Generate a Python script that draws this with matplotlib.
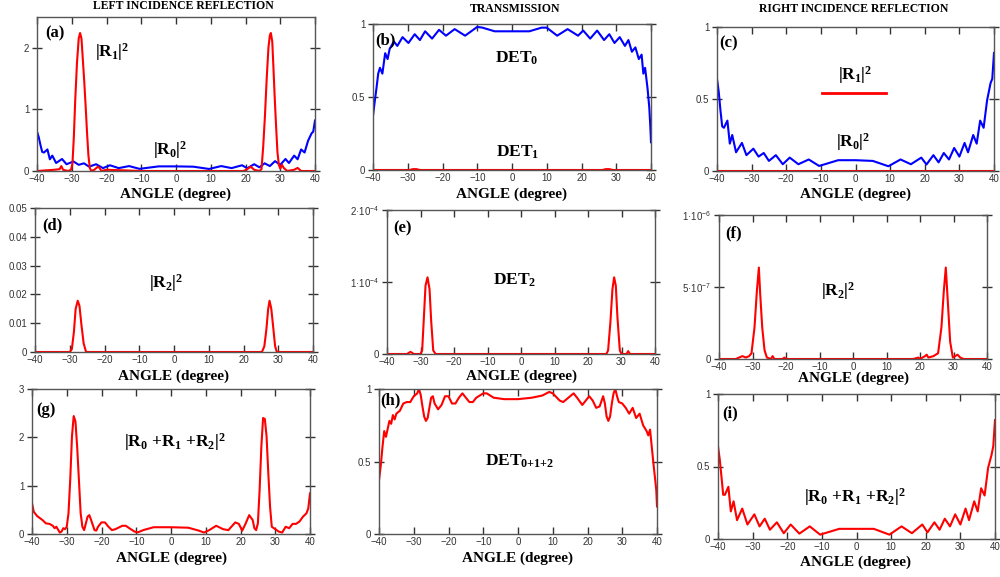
import numpy as np
import matplotlib
matplotlib.use('Agg')
from matplotlib import pyplot as plt

plt.rcParams['mathtext.fontset'] = 'custom'
plt.rcParams['mathtext.rm'] = 'Liberation Serif:bold'
plt.rcParams['mathtext.it'] = 'Liberation Serif:bold'
plt.rcParams['mathtext.bf'] = 'Liberation Serif:bold'
plt.rcParams['mathtext.sf'] = 'Liberation Sans'
plt.rcParams['font.family'] = ['Liberation Sans', 'DejaVu Sans']

# (a)/(c) zeroth order reflection
ang_r0 = [-40, -39.5, -39, -38.5, -38, -37, -36.3, -35.6, -34.5, -32.8, -31.5, -29.5, -28, -26.5, -25,
          -23, -21, -19, -16.5, -13.5, -10.5, -5, 0, 5, 9.5, 13, 16, 19, 20.5, 22.5,
          24, 25.5, 27, 28.5, 30, 31.5, 32.5, 34, 35, 36, 37, 38, 39, 39.5, 40]
r0 = [0.64, 0.55, 0.42, 0.31, 0.30, 0.35, 0.19, 0.25, 0.13, 0.195, 0.11, 0.155, 0.10, 0.125, 0.07,
      0.11, 0.047, 0.093, 0.047, 0.08, 0.035, 0.075, 0.075, 0.07, 0.033, 0.08, 0.047, 0.093, 0.045, 0.11,
      0.06, 0.125, 0.08, 0.16, 0.10, 0.195, 0.13, 0.25, 0.19, 0.35, 0.30, 0.49, 0.61, 0.64, 0.82]

# (a) first order reflection, left incidence
ang_r1 = [-40, -35, -33.5, -33, -32.5, -31, -30.2, -29.8, -29.4, -29, -28.5, -28, -27.6, -27.2, -26.8,
          -26.4, -26, -25.6, -25.2, -24.8, -24.4, -23.5, -22.5, -22, -21.5, -20, -10, 0, 10, 19.5,
          20.5, 21.5, 22.5, 24, 24.6, 25.1, 25.6, 26.1, 26.6, 27, 27.3, 27.7, 28, 28.4, 28.8,
          29.2, 29.6, 30, 30.5, 31, 32, 34, 35, 36, 40]
r1 = [0.0, 0.02, 0.03, 0.08, 0.02, 0.0, 0.02, 0.12, 0.55, 1.15, 1.75, 2.15, 2.24, 2.15, 1.8,
      1.45, 1.05, 0.62, 0.25, 0.05, 0.0, 0.02, 0.07, 0.05, 0.0, 0.02, 0.0, 0.0, 0.0, 0.0,
      0.03, 0.07, 0.02, 0.0, 0.03, 0.4, 0.9, 1.5, 2.0, 2.2, 2.24, 2.1, 1.73, 1.2, 0.73,
      0.3, 0.1, 0.04, 0.1, 0.05, 0.0, 0.02, 0.05, 0.0, 0.0]

# (b) transmission
ang_det0 = [-40, -39.5, -39, -38.5, -38, -37.3, -36.5, -35.8, -35.2, -34, -33, -31.5, -29.8, -28, -26.5,
            -25, -23, -21, -19, -16.5, -13.5, -10, -8.5, -5, 0, 5, 8.5, 10, 13, 16,
            19, 20.5, 22.5, 24.5, 26.5, 28, 29.5, 31, 32.5, 33.5, 34.5, 35.5, 36.5, 37.3, 37.8,
            38.3, 39, 39.5, 39.8, 40]
det0 = [0.37, 0.47, 0.56, 0.66, 0.70, 0.66, 0.80, 0.76, 0.83, 0.88, 0.85, 0.91, 0.87, 0.93, 0.89,
        0.95, 0.90, 0.96, 0.92, 0.965, 0.92, 0.98, 0.975, 0.95, 0.95, 0.95, 0.975, 0.975, 0.92, 0.965,
        0.92, 0.955, 0.90, 0.955, 0.89, 0.93, 0.87, 0.91, 0.85, 0.89, 0.81, 0.84, 0.76, 0.79, 0.66,
        0.70, 0.56, 0.43, 0.30, 0.19]
ang_det1 = [-40, -29.5, -28.5, -27.5, -26.5, 26, 27, 28, 29, 40]
det1 = [0, 0, 0.006, 0.006, 0, 0, 0.006, 0.006, 0, 0]

# (d) second order reflection, left incidence
ang_r2 = [-40, -30, -29.4, -28.8, -28.3, -27.7, -27.2, -26.6, -26, -25.3,
          25.3, 26, 26.6, 27.1, 27.5, 28, 28.6, 29.1, 29.6, 40]
r2 = [0, 0, 0.001, 0.007, 0.015, 0.0178, 0.016, 0.009, 0.003, 0,
      0, 0.002, 0.008, 0.015, 0.0178, 0.015, 0.008, 0.002, 0, 0]

# (e) DET2, units of 1e-4
ang_det2 = [-40, -34, -33, -32, -30, -29.5, -29, -28.5, -27.9, -27.3, -26.8, -26.2, -25.5,
            25.5, 26, 26.7, 27.3, 27.8, 28.3, 28.8, 29.5, 30, 31.5, 32, 32.5, 40]
det2 = [0, 0, 0.03, 0, 0, 0.05, 0.5, 0.95, 1.065, 0.9, 0.45, 0.05, 0,
        0, 0.05, 0.45, 0.9, 1.065, 0.95, 0.5, 0.05, 0, 0, 0.04, 0, 0]

# (f) second order reflection, right incidence, units of 1e-7
ang_r2r = [-40, -35, -34, -33, -32, -31, -30.3, -29.4, -28.7, -28.1, -27.7, -27.1, -26.4, -25.7, -24.5,
           -24, -23.5, -21, -20.5, -20, 18, 19.5, 20, 21.5, 22, 22.5, 24, 25.4, 26.4, 27.1,
           27.7, 28.3, 29, 29.8, 30.5, 31.2, 32, 33, 40]
r2r = [0, 0, 0.1, 0.2, 0.1, 0.2, 0.4, 2.2, 4.7, 6.35, 4.5, 2.2, 0.6, 0.1, 0.0,
       0.2, 0, 0, 0.1, 0, 0, 0.1, 0, 0.2, 0.3, 0.1, 0.2, 0.4, 2.2, 4.7,
       6.35, 4.0, 1.2, 0.1, 0.2, 0.3, 0.1, 0, 0]

# (g) total reflection, left incidence
ang_g = [-40, -39.5, -38.5, -37, -36, -35, -34, -33.5, -33, -32,
         -31.5, -31, -30.5, -30, -29.5, -29, -28.5, -28, -27.5, -27,
         -26.5, -26, -25.5, -25, -24.5, -24, -23.5, -23, -22, -21.5,
         -21, -20, -19, -18, -17, -16, -14, -13, -12, -10.5,
         -9.5, -8, -5, 0, 5, 8, 9.5, 11, 13, 15,
         16.5, 18.5, 19.5, 20.5, 21.5, 22.5, 23.5, 24, 24.5, 25,
         25.5, 26, 26.5, 27, 27.5, 28, 28.5, 29, 30, 31,
         32, 33, 34, 35, 36, 37, 38, 39, 39.5, 40]
tot_g = [0.64, 0.46, 0.37, 0.29, 0.22, 0.21, 0.17, 0.12, 0.15, 0.03,
         0.05, 0.12, 0.10, 0.15, 0.43, 1.12, 2.02, 2.44, 2.33, 1.8,
         1.12, 0.43, 0.15, 0.08, 0.22, 0.36, 0.39, 0.29, 0.08, 0.07,
         0.15, 0.24, 0.24, 0.15, 0.08, 0.10, 0.17, 0.17, 0.12, 0.05,
         0.035, 0.08, 0.14, 0.14, 0.13, 0.07, 0.03, 0.08, 0.17, 0.10,
         0.08, 0.24, 0.21, 0.07, 0.22, 0.39, 0.29, 0.12, 0.08, 0.22,
         0.91, 1.81, 2.40, 2.38, 2.02, 1.26, 0.57, 0.15, 0.10, 0.05,
         0.03, 0.15, 0.12, 0.21, 0.21, 0.26, 0.36, 0.43, 0.53, 0.84]

# (h) total transmission
ang_h = [-40, -39.5, -39, -38.5, -38, -37, -36.5, -36, -35.5, -35,
         -34, -33, -32, -31, -30, -29, -28.5, -28, -27.5, -27,
         -26.5, -26, -25.5, -25, -24.5, -24, -23, -22, -21, -20,
         -19, -18, -17, -16, -15, -14, -13, -12, -10, -9,
         -7, -4, 0, 4, 7, 9, 10, 12, 13, 15,
         16, 17, 18.5, 19.5, 20.5, 21.5, 22.5, 23.5, 24.5, 25,
         25.5, 26, 26.5, 27, 27.5, 28, 28.5, 29, 30, 31,
         32, 33, 34, 35, 36, 37, 37.5, 38, 38.5, 39,
         39.5, 39.8, 40]
tot_h = [0.37, 0.47, 0.60, 0.71, 0.67, 0.78, 0.76, 0.82, 0.79, 0.83,
         0.85, 0.90, 0.91, 0.91, 0.95, 0.97, 1.0, 0.96, 0.88, 0.81,
         0.78, 0.80, 0.87, 0.94, 0.95, 0.90, 0.86, 0.89, 0.95, 0.95,
         0.90, 0.90, 0.94, 0.97, 0.94, 0.91, 0.91, 0.94, 0.97, 0.97,
         0.94, 0.93, 0.93, 0.94, 0.955, 0.98, 0.97, 0.92, 0.91, 0.95,
         0.97, 0.94, 0.89, 0.92, 0.95, 0.92, 0.87, 0.88, 0.95, 0.90,
         0.81, 0.78, 0.81, 0.90, 0.97, 1.0, 0.95, 0.91, 0.90, 0.87,
         0.83, 0.87, 0.80, 0.83, 0.75, 0.71, 0.68, 0.72, 0.60, 0.48,
         0.37, 0.30, 0.19]

# (i) total reflection, right incidence
ang_i = [-40, -39.5, -39, -38.5, -38, -37, -36.3, -35.5, -34.5, -33, -31.5, -29.5, -28, -26.5, -25,
         -23, -21, -19, -16.5, -13.5, -10.5, -5, 0, 5, 9.5, 13, 16, 19, 20.5, 22.5,
         24, 25.5, 27, 28.5, 30, 31.5, 32.5, 34, 35, 36, 37, 38, 39, 39.5, 40]
tot_i = [0.64, 0.55, 0.43, 0.305, 0.305, 0.36, 0.19, 0.26, 0.13, 0.21, 0.10, 0.17, 0.087, 0.14, 0.064,
         0.115, 0.04, 0.10, 0.037, 0.087, 0.03, 0.07, 0.07, 0.07, 0.03, 0.087, 0.04, 0.10, 0.046, 0.115,
         0.064, 0.14, 0.087, 0.17, 0.10, 0.21, 0.13, 0.26, 0.19, 0.35, 0.30, 0.49, 0.58, 0.64, 0.82]

W, H = 1000, 577
BLUE = '#0000ff'
RED = '#ff0000'
SERIF = 'Liberation Serif'

fig = plt.figure(figsize=(W / 100, H / 100), dpi=100)


def make_axes(left, top, right, bottom, ymax, yticks, ylabels):
    ax = fig.add_axes([left / W, 1 - bottom / H, (right - left) / W, (bottom - top) / H])
    ax.set_xlim(-40, 40)
    ax.set_ylim(0, ymax)
    ax.set_xticks(range(-40, 41, 10))
    ax.set_yticks(yticks)
    ax.set_yticklabels(ylabels)
    ax.tick_params(axis='x', direction='in', top=True, length=5, width=1,
                   labelsize=7, pad=2, colors='#333333')
    ax.tick_params(axis='y', direction='inout', right=True, length=7, width=1,
                   labelsize=7, pad=2, colors='#333333')
    for sp in ax.spines.values():
        sp.set_linewidth(1)
        sp.set_color('#555555')
    return ax


def put(x, y, s, size=12.5, ha='center'):
    fig.text(x / W, 1 - y / H, s, fontsize=size, fontweight='bold', family=SERIF,
             ha=ha, va='center')


half = ['0', '0.5', '1']
LW = 1.5

ax_a = make_axes(37, 17, 315, 171, 2.5, [0, 1, 2], ['0', '1', '2'])
ax_a.plot(ang_r0, r0, color=BLUE, lw=LW)
ax_a.plot(ang_r1, r1, color=RED, lw=LW)

ax_b = make_axes(373, 24, 651, 170, 1, [0, 0.5, 1], half)
ax_b.plot(ang_det0, det0, color=BLUE, lw=LW)
ax_b.plot(ang_det1, det1, color=RED, lw=LW)

ax_c = make_axes(717, 27, 994, 171, 1, [0, 0.5, 1], half)
ax_c.plot(ang_r0, r0, color=BLUE, lw=LW)
ax_c.plot([-40, 40], [0, 0], color=RED, lw=LW)
ax_c.plot([0.379, 0.61], [0.54, 0.54], color=RED, lw=2, transform=ax_c.transAxes)

ax_d = make_axes(35, 208, 313, 352, 0.05, [0, 0.01, 0.02, 0.03, 0.04, 0.05],
                 ['0', '0.01', '0.02', '0.03', '0.04', '0.05'])
ax_d.plot(ang_r2, r2, color=RED, lw=LW)

ax_e = make_axes(387, 210, 655, 354, 2e-4, [0, 1e-4, 2e-4],
                 ['0', r'1·10$^{\mathsf{-4}}$', r'2·10$^{\mathsf{-4}}$'])
ax_e.plot(ang_det2, np.array(det2) * 1e-4, color=RED, lw=LW)

ax_f = make_axes(719, 215, 987, 359, 1e-6, [0, 5e-7, 1e-6],
                 ['0', r'5·10$^{\mathsf{-7}}$', r'1·10$^{\mathsf{-6}}$'])
ax_f.plot(ang_r2r, np.array(r2r) * 1e-7, color=RED, lw=LW)

ax_g = make_axes(32, 389, 310, 534, 3, [0, 1, 2, 3], ['0', '1', '2', '3'])
ax_g.plot(ang_g, tot_g, color=RED, lw=LW)

ax_h = make_axes(379, 389, 657, 534, 1, [0, 0.5, 1], half)
ax_h.plot(ang_h, tot_h, color=RED, lw=LW)

ax_i = make_axes(718, 394, 995, 539, 1, [0, 0.5, 1], half)
ax_i.plot(ang_i, tot_i, color=RED, lw=LW)

# column titles
put(183, 6, 'LEFT INCIDENCE REFLECTION', size=8.5)
put(515, 9, 'TRANSMISSION', size=8.5)
put(854, 9, 'RIGHT INCIDENCE REFLECTION', size=8.5)

# x labels
for cx, cy in [(176, 194), (512, 194), (855, 194),
               (174, 376), (521, 376), (853, 378),
               (171, 558), (518, 558), (856, 562)]:
    put(cx, cy, 'ANGLE (degree)', size=11)

# panel letters
for lx, ly, s in [(45, 33, '(a)'), (375, 40, '(b)'), (719, 43, '(c)'),
                  (42, 225, '(d)'), (393, 228, '(e)'), (725, 233, '(f)'),
                  (36, 410, '(g)'), (380, 400, '(h)'), (722, 413, '(i)')]:
    put(lx, ly, s, size=12, ha='left')

# curve annotations
put(112, 52, r'$|R_1|^2$')
put(170, 150, r'$|R_0|^2$')
put(517, 58, r'$DET_0$')
put(518, 152, r'$DET_1$')
put(855, 75, r'$|R_1|^2$')
put(853, 142, r'$|R_0|^2$')
put(166, 283, r'$|R_2|^2$')
put(515, 280, r'$DET_2$')
put(838, 291, r'$|R_2|^2$')
put(175, 442, r'$|R_0\ {+}R_1\ {+}R_2|^2$')
put(520, 461, r'$DET_{0{+}1{+}2}$')
put(855, 497, r'$|R_0\ {+}R_1\ {+}R_2|^2$')

fig.savefig('out.png', dpi=100)
